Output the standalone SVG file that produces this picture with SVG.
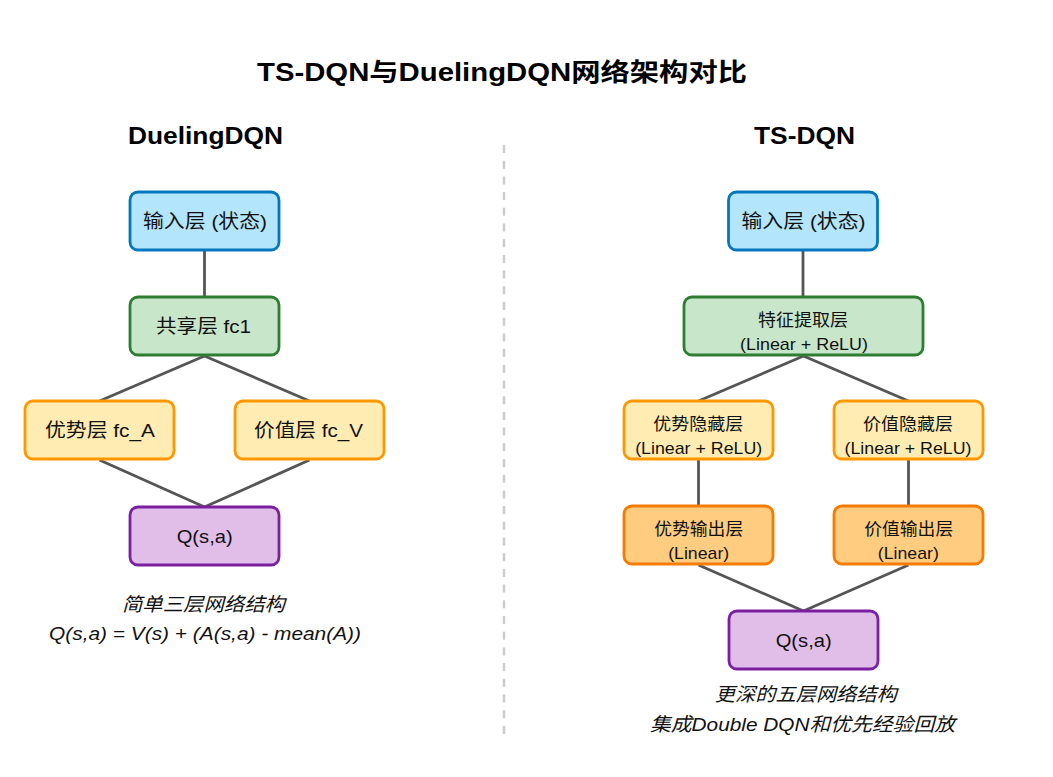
<svg xmlns="http://www.w3.org/2000/svg" width="1053" height="777" viewBox="0 0 1053 777">
<style>
text{font-family:"Liberation Sans","Noto Sans CJK SC",sans-serif;fill:#111;text-anchor:middle}
.title{font-size:25px;font-weight:bold;fill:#000}
.head{font-size:23px;font-weight:bold;fill:#000}
.lbl{font-size:19px}
.lbl2{font-size:17px}
.note{font-size:19px;font-style:italic}
rect{stroke-width:2.8}
.in{fill:#b3e5fc;stroke:#0277bd}
.sh{fill:#c8e6c9;stroke:#2e7d32}
.hd{fill:#ffecb3;stroke:#ff9800}
.out{fill:#ffcc80;stroke:#f57c00}
.q{fill:#e1bee7;stroke:#7b1fa2}
.conn line{stroke:#555;stroke-width:2.8}
</style>
<rect width="1053" height="777" fill="#fff" stroke="none"/>
<text class="title" x="502" y="81" textLength="490" lengthAdjust="spacingAndGlyphs">TS-DQN与DuelingDQN网络架构对比</text>
<text class="head" x="205.5" y="144" textLength="155" lengthAdjust="spacingAndGlyphs">DuelingDQN</text>
<text class="head" x="804.5" y="144" textLength="101" lengthAdjust="spacingAndGlyphs">TS-DQN</text>
<line x1="504" y1="145" x2="504" y2="740" stroke="#ccc" stroke-width="2.5" stroke-dasharray="8,7.7"/>
<g class="conn" id="connectors">
<line x1="204.5" y1="251" x2="204.5" y2="296"/>
<line x1="204.5" y1="356" x2="99.5" y2="401"/>
<line x1="204.5" y1="356" x2="309.5" y2="401"/>
<line x1="99.5" y1="460" x2="204.5" y2="507"/>
<line x1="309.5" y1="460" x2="204.5" y2="507"/>
<line x1="803" y1="251" x2="803" y2="296"/>
<line x1="803.5" y1="356" x2="698.5" y2="401"/>
<line x1="803.5" y1="356" x2="908.5" y2="401"/>
<line x1="698.5" y1="460" x2="698.5" y2="506"/>
<line x1="908.5" y1="460" x2="908.5" y2="506"/>
<line x1="698.5" y1="565" x2="803.5" y2="611"/>
<line x1="908.5" y1="565" x2="803.5" y2="611"/>
</g>
<g id="d-input"><rect class="in" x="130" y="192" width="149" height="58" rx="8"/><text class="lbl" x="205" y="228" textLength="124" lengthAdjust="spacingAndGlyphs">输入层 (状态)</text></g>
<g id="d-shared"><rect class="sh" x="130" y="297" width="149" height="58" rx="8"/><text class="lbl" x="203.5" y="333" textLength="95" lengthAdjust="spacingAndGlyphs">共享层 fc1</text></g>
<g id="d-adv"><rect class="hd" x="25" y="401" width="149" height="58" rx="8"/><text class="lbl" x="100" y="437" textLength="110" lengthAdjust="spacingAndGlyphs">优势层 fc_A</text></g>
<g id="d-val"><rect class="hd" x="235" y="401" width="149" height="58" rx="8"/><text class="lbl" x="308.5" y="437" textLength="109" lengthAdjust="spacingAndGlyphs">价值层 fc_V</text></g>
<g id="d-q"><rect class="q" x="130" y="507" width="149" height="58" rx="8"/><text class="lbl" x="204.7" y="543" textLength="56" lengthAdjust="spacingAndGlyphs">Q(s,a)</text></g>
<g id="t-input"><rect class="in" x="728.5" y="192" width="149" height="58" rx="8"/><text class="lbl" x="803.5" y="228" textLength="124" lengthAdjust="spacingAndGlyphs">输入层 (状态)</text></g>
<g id="t-feat"><rect class="sh" x="684" y="297" width="239" height="58" rx="8"/><text class="lbl2" x="803" y="326" textLength="90" lengthAdjust="spacingAndGlyphs">特征提取层</text><text class="lbl2" x="804" y="350" textLength="128" lengthAdjust="spacingAndGlyphs">(Linear + ReLU)</text></g>
<g id="t-advh"><rect class="hd" x="624" y="401" width="149" height="58" rx="8"/><text class="lbl2" x="698.3" y="430" textLength="90" lengthAdjust="spacingAndGlyphs">优势隐藏层</text><text class="lbl2" x="698.7" y="454" textLength="127" lengthAdjust="spacingAndGlyphs">(Linear + ReLU)</text></g>
<g id="t-valh"><rect class="hd" x="834" y="401" width="149" height="58" rx="8"/><text class="lbl2" x="908" y="430" textLength="90" lengthAdjust="spacingAndGlyphs">价值隐藏层</text><text class="lbl2" x="908" y="454" textLength="127" lengthAdjust="spacingAndGlyphs">(Linear + ReLU)</text></g>
<g id="t-advo"><rect class="out" x="624" y="506" width="149" height="58" rx="8"/><text class="lbl2" x="698.7" y="535" textLength="89" lengthAdjust="spacingAndGlyphs">优势输出层</text><text class="lbl2" x="698.7" y="559" textLength="61" lengthAdjust="spacingAndGlyphs">(Linear)</text></g>
<g id="t-valo"><rect class="out" x="834" y="506" width="149" height="58" rx="8"/><text class="lbl2" x="908.7" y="535" textLength="89" lengthAdjust="spacingAndGlyphs">价值输出层</text><text class="lbl2" x="908.3" y="559" textLength="61" lengthAdjust="spacingAndGlyphs">(Linear)</text></g>
<g id="t-q"><rect class="q" x="729" y="611" width="149" height="58" rx="8"/><text class="lbl" x="803.7" y="647" textLength="56" lengthAdjust="spacingAndGlyphs">Q(s,a)</text></g>
<g id="notes">
<text class="note" x="203.5" y="611" textLength="163" lengthAdjust="spacingAndGlyphs">简单三层网络结构</text>
<text class="note" x="205" y="640" textLength="312" lengthAdjust="spacingAndGlyphs">Q(s,a) = V(s) + (A(s,a) - mean(A))</text>
<text class="note" x="805.8" y="701" textLength="182" lengthAdjust="spacingAndGlyphs">更深的五层网络结构</text>
<text class="note" x="802.5" y="731" textLength="305" lengthAdjust="spacingAndGlyphs">集成Double DQN和优先经验回放</text>
</g>
</svg>
